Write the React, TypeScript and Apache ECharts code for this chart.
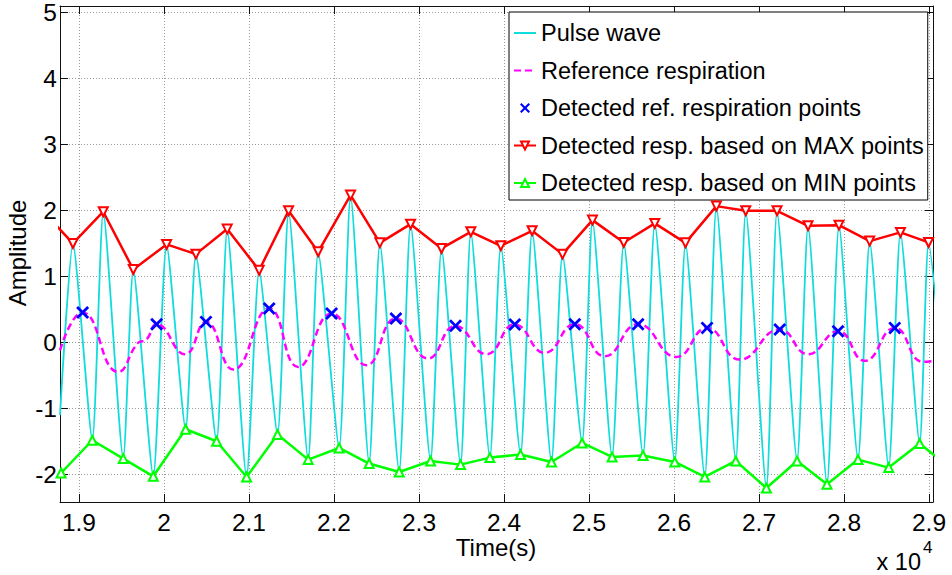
import React, { useEffect, useRef } from "react";
import * as echarts from "echarts";

const FONT = "'Liberation Sans', Arial, Helvetica, sans-serif";

const xTicks = [19000, 20000, 21000, 22000, 23000, 24000, 25000, 26000, 27000, 28000, 29000];
const yTicks = [-2, -1, 0, 1, 2, 3, 4, 5];

// Detected respiration based on MAX points (pulse peaks)
const maxX = [18570, 18929, 19286, 19639, 20031, 20376, 20744, 21120, 21466, 21814, 22195, 22540, 22901, 23265, 23610, 23963, 24331, 24688, 25041, 25409, 25774, 26135, 26499, 26844, 27212, 27577, 27941, 28302, 28664, 28995];
const maxY = [2.0, 1.5, 1.98, 1.106, 1.485, 1.338, 1.717, 1.095, 1.994, 1.373, 2.232, 1.509, 1.792, 1.424, 1.676, 1.464, 1.691, 1.338, 1.853, 1.515, 1.803, 1.509, 2.065, 1.994, 1.994, 1.767, 1.777, 1.535, 1.667, 1.515];

// Detected respiration based on MIN points (pulse troughs)
const minX = [18790, 19157, 19521, 19874, 20255, 20619, 20972, 21336, 21697, 22061, 22414, 22767, 23136, 23489, 23834, 24195, 24559, 24919, 25272, 25636, 26009, 26362, 26727, 27087, 27448, 27800, 28165, 28526, 28890, 29250];
const minY = [-1.976, -1.48, -1.758, -2.026, -1.314, -1.495, -2.036, -1.394, -1.773, -1.597, -1.833, -1.96, -1.794, -1.849, -1.743, -1.697, -1.809, -1.521, -1.733, -1.712, -1.809, -2.036, -1.794, -2.203, -1.794, -2.147, -1.773, -1.894, -1.53, -1.9];

// Pulse wave start (left edge of the view)
const pulseStartX = 18777;
const pulseStartY = -1.1;

// Reference respiration (peaks / troughs of the dashed curve)
const refX = [18777, 19043, 19462, 19700, 19790, 19914, 20247, 20494, 20815, 21238, 21579, 21972, 22383, 22728, 23108, 23430, 23795, 24127, 24480, 24833, 25186, 25578, 26029, 26389, 26774, 27244, 27577, 27930, 28243, 28597, 28930, 29047];
const refY = [-0.12, 0.455, -0.445, 0.0, 0.04, 0.277, -0.177, 0.312, -0.41, 0.515, -0.37, 0.439, -0.344, 0.364, -0.243, 0.252, -0.177, 0.273, -0.157, 0.277, -0.208, 0.277, -0.218, 0.221, -0.258, 0.197, -0.177, 0.171, -0.278, 0.221, -0.293, -0.28];

// Detected reference respiration points
const detX = [19043, 19914, 20494, 21238, 21972, 22728, 23430, 24127, 24833, 25578, 26389, 27244, 27930, 28597];
const detY = [0.455, 0.277, 0.312, 0.515, 0.439, 0.364, 0.252, 0.273, 0.277, 0.277, 0.221, 0.197, 0.171, 0.221];

const X_MARK = "path://M0,1.8L1.8,0L6,4.2L10.2,0L12,1.8L7.8,6L12,10.2L10.2,12L6,7.8L1.8,12L0,10.2L4.2,6Z";

export default function App() {
  const ref = useRef<HTMLDivElement>(null);
  useEffect(() => {
    if (!ref.current) return;
    const chart = echarts.init(ref.current, undefined, { renderer: "svg" });

    const zip = (xs: number[], ys: number[]) => xs.map((x, i) => [x, ys[i]]);
    const maxData = zip(maxX, maxY);
    const minData = zip(minX, minY);
    const pulseData = [[pulseStartX, pulseStartY], ...maxData.slice(1), ...minData.slice(1)].sort(
      (a, b) => a[0] - b[0]
    );

    const xMin = 18777, xMax = 29047, yMin = -2.415, yMax = 5.095;
    const gridLine = { show: true, lineStyle: { type: [1, 2], color: "#9a9a9a", width: 1 } };
    const axisLine = { show: true, onZero: false, lineStyle: { color: "#111", width: 1 } };
    const tickStyle = { color: "#111", width: 1 };
    const noSymbol = { color: "rgba(0,0,0,0)", borderColor: "rgba(0,0,0,0)", borderWidth: 0 };

    chart.setOption({
      animation: false,
      backgroundColor: "#fff",
      grid: { left: 60, top: 6, width: 873, height: 496, containLabel: false, outerBoundsMode: "none" },
      xAxis: [
        {
          type: "value", min: xMin, max: xMax, position: "bottom",
          axisLine, axisTick: { inside: true, length: 8, customValues: xTicks, lineStyle: tickStyle },
          axisLabel: { customValues: xTicks, formatter: (v: number) => String(Math.round(v / 100) / 100), fontSize: 24.5, color: "#000", fontFamily: FONT, margin: 8 },
          splitLine: gridLine,
        },
        {
          type: "value", min: xMin, max: xMax, position: "top",
          axisLine, axisTick: { inside: true, length: 8, customValues: xTicks, lineStyle: tickStyle },
          axisLabel: { show: false }, splitLine: { show: false },
        },
      ],
      yAxis: [
        {
          type: "value", min: yMin, max: yMax, position: "left",
          axisLine, axisTick: { inside: true, length: 8, customValues: yTicks, lineStyle: tickStyle },
          axisLabel: { customValues: yTicks, fontSize: 24.5, color: "#000", fontFamily: FONT, margin: 3 },
          splitLine: gridLine,
        },
        {
          type: "value", min: yMin, max: yMax, position: "right",
          axisLine, axisTick: { inside: true, length: 8, customValues: yTicks, lineStyle: tickStyle },
          axisLabel: { show: false }, splitLine: { show: false },
        },
      ],
      legend: {
        orient: "vertical", left: 509, top: 12, padding: [9, 4, 5, 4], itemGap: 13.5,
        itemWidth: 22, itemHeight: 10, backgroundColor: "#fff", borderColor: "#000", borderWidth: 1,
        selectedMode: false,
        textStyle: { fontSize: 23.5, color: "#000", fontFamily: FONT },
        data: [
          { name: "Pulse wave", itemStyle: noSymbol },
          { name: "Reference respiration", itemStyle: noSymbol },
          { name: "Detected ref. respiration points" },
          { name: "Detected resp. based on MAX points" },
          { name: "Detected resp. based on MIN points" },
        ],
      },
      graphic: [
        { type: "text", x: 17, y: 253, rotation: Math.PI / 2, style: { text: "Amplitude", font: `24px ${FONT}`, fill: "#000", align: "center", verticalAlign: "middle" } },
        { type: "text", x: 496, y: 547, style: { text: "Time(s)", font: `24px ${FONT}`, fill: "#000", align: "center", verticalAlign: "middle" } },
        { type: "text", x: 921, y: 562, style: { text: "x 10", font: `23.5px ${FONT}`, fill: "#000", align: "right", verticalAlign: "middle" } },
        { type: "text", x: 923, y: 547, style: { text: "4", font: `17px ${FONT}`, fill: "#000", align: "left", verticalAlign: "middle" } },
      ],
      series: [
        {
          name: "Pulse wave", type: "line", data: pulseData, symbol: "none", smooth: 0.2, clip: true,
          lineStyle: { color: "#10dcdc", width: 1.8 }, itemStyle: { color: "#10dcdc" }, z: 2,
        },
        {
          name: "Reference respiration", type: "line", data: zip(refX, refY), symbol: "none", smooth: true, clip: true,
          lineStyle: { color: "#ff00ff", width: 2.5, type: [7, 4] }, itemStyle: { color: "#ff00ff" }, z: 3,
        },
        {
          name: "Detected ref. respiration points", type: "scatter", data: zip(detX, detY), symbol: X_MARK,
          symbolSize: 13, symbolKeepAspect: true, itemStyle: { color: "#0000ff", opacity: 1 }, z: 6,
        },
        {
          name: "Detected resp. based on MAX points", type: "line", data: maxData, symbol: "emptyTriangle", symbolRotate: 180,
          symbolSize: 9, showAllSymbol: true, clip: true, lineStyle: { color: "#ff0000", width: 2.5 },
          itemStyle: { color: "#ff0000", borderColor: "#ff0000", borderWidth: 2.5 }, z: 4,
        },
        {
          name: "Detected resp. based on MIN points", type: "line", data: minData, symbol: "emptyTriangle",
          symbolSize: 9, showAllSymbol: true, clip: true, lineStyle: { color: "#00ff00", width: 2.5 },
          itemStyle: { color: "#00ff00", borderColor: "#00ff00", borderWidth: 2.5 }, z: 4,
        },
      ],
    });
    return () => chart.dispose();
  }, []);

  return (
    <div
      ref={ref}
      style={{ position: "fixed", left: 0, top: 0, width: 952, height: 575, background: "#fff" }}
    />
  );
}
